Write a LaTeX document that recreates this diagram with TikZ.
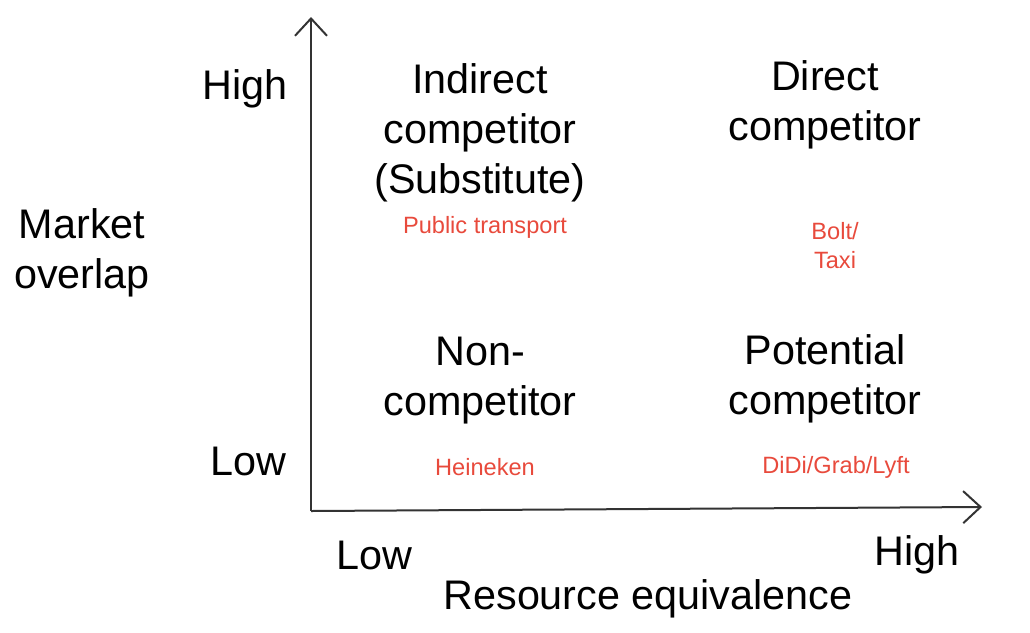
\documentclass[tikz,border=0pt]{standalone}
\usepackage{fontspec}
\setmainfont{Liberation Sans}
\usepackage{tikz}
\usetikzlibrary{arrows.meta}
\definecolor{ExampleRed}{HTML}{E84A3C}

\begin{document}
\begin{tikzpicture}[x=0.75pt,y=-0.75pt,>={Straight Barb[length=13pt,width=24pt,line width=1.5pt]},
  lab/.style={font=\fontsize{31}{37.5}\selectfont,align=center,inner sep=0pt},
  ex/.style={font=\fontsize{17.7}{21.75}\selectfont,align=center,inner sep=0pt,text=ExampleRed}]
\useasboundingbox (0,0) rectangle (1030,632);
% axes
\coordinate (orig) at (311,511);
\coordinate (ytop) at (311,17);
\coordinate (xend) at (982,507);
\draw[->,line width=1.5pt,black!80] (orig) -- (ytop);
\draw[->,line width=1.5pt,black!80] (orig) -- (xend);
% axis labels
\node[lab] (yhigh) at (245,89) {High};
\node[lab] (ylow) at (248,461) {Low};
\node[lab] (ytitle) at (82,253) {Market\\overlap};
\node[lab] (xlow) at (374,555) {Low};
\node[lab] (xhigh) at (917,555) {High};
\node[lab] (xtitle) at (648,599) {Resource equivalence};
% quadrants
\node[lab] (indirect) at (480,133) {Indirect\\competitor\\(Substitute)};
\node[lab] (direct) at (825,105) {Direct\\competitor};
\node[lab] (noncomp) at (480,381) {Non-\\competitor};
\node[lab] (potential) at (825,379) {Potential\\competitor};
% examples
\node[ex] (public) at (485,227) {Public transport};
\node[ex] (bolt) at (835,246) {Bolt/\\Taxi};
\node[ex] (heineken) at (485,467) {Heineken};
\node[ex] (didi) at (836,467) {DiDi/Grab/Lyft};
\end{tikzpicture}
\end{document}
